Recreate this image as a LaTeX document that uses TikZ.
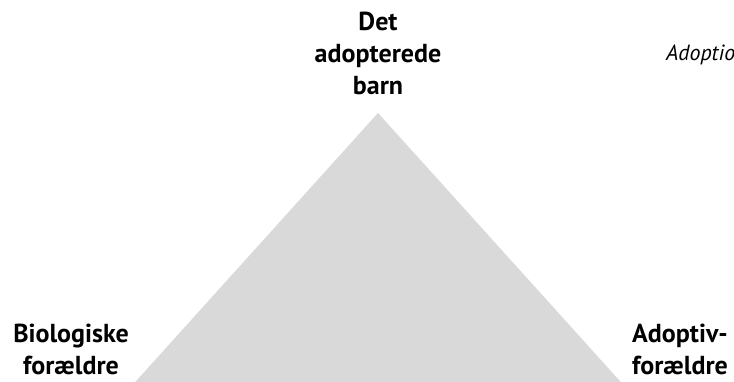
\documentclass[tikz,border=0pt]{standalone}
\usepackage{fontspec}
\setmainfont{PT Sans}
\usepackage{tikz}
\definecolor{trifill}{RGB}{217, 217, 217}
\tikzset{
    corner/.style={align=center, inner sep=0pt, anchor=south, font=\bfseries\fontsize{26}{32}\selectfont},
    caption/.style={inner sep=0pt, anchor=base west, font=\itshape\fontsize{22}{26}\selectfont}
}

\begin{document}
\begin{tikzpicture}[x=1pt, y=-1pt]
    \useasboundingbox (0,0) rectangle (734,381);
    \clip (0,0) rectangle (734,381);

    % Triangle
    \coordinate (apex) at (378,113);
    \fill[trifill] (apex) -- (128,390) -- (628,390) -- cycle;

    % Corner labels
    \node[corner] (child) at (378,95) {Det\\adopterede\\barn};
    \node[corner] (birth) at (71,375) {Biologiske\\forældre};
    \node[corner] (adopt) at (680,375) {Adoptiv-\\forældre};

    % Cut-off caption
    \node[caption] (title) at (666,60) {Adoption};
\end{tikzpicture}
\end{document}
